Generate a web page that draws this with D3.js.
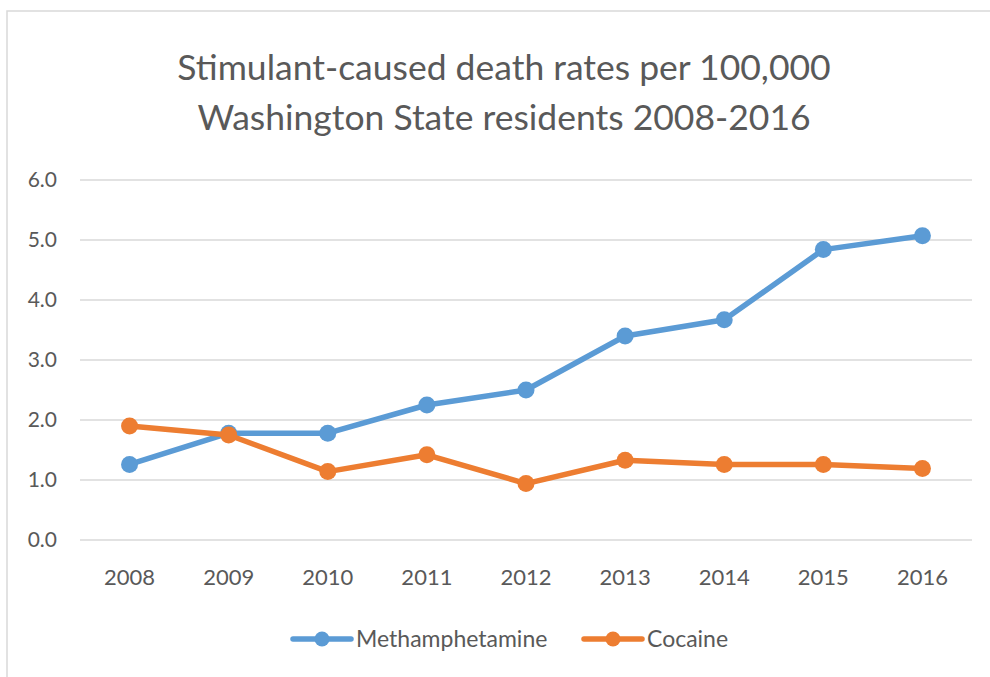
<!DOCTYPE html>
<html><head><meta charset="utf-8">
<script src="https://cdn.jsdelivr.net/npm/d3@7"></script>
<style>body{margin:0;background:#fff}svg{display:block}text{font-family:Lato,"Open Sans",sans-serif}</style>
</head><body>
<script>
const years = ["2008","2009","2010","2011","2012","2013","2014","2015","2016"];
const methamphetamine = [1.26,1.78,1.78,2.25,2.50,3.40,3.67,4.84,5.07];
const cocaine = [1.90,1.75,1.14,1.42,0.94,1.33,1.26,1.26,1.19];
const yTicks = [0,1,2,3,4,5,6];
const seriesNames = ["Methamphetamine","Cocaine"];
const colors = ["#5B9BD5","#ED7D31"];
const titleLines = ["Stimulant-caused death rates per 100,000","Washington State residents 2008-2016"];

const W=990,H=677;
const svg=d3.select("body").append("svg").attr("width",W).attr("height",H);
svg.append("rect").attr("x",7).attr("y",11).attr("width",W+10).attr("height",H+10)
  .attr("fill","#fff").attr("stroke","#d9d9d9").attr("stroke-width",1.5);

const x=d3.scaleBand().domain(years).range([80,972]);
const y=d3.scaleLinear().domain([0,6]).range([540,180]);

svg.append("g").selectAll("line").data(yTicks).join("line")
  .attr("x1",80).attr("x2",972).attr("y1",d=>y(d)).attr("y2",d=>y(d))
  .attr("stroke","#d9d9d9").attr("stroke-width",1.5);

const ya=svg.append("g").attr("transform","translate(80,0)")
  .call(d3.axisLeft(y).tickValues(yTicks).tickFormat(d3.format(".1f")).tickSize(0).tickPadding(23));
ya.select(".domain").remove();
ya.selectAll("text").attr("font-size",21).attr("fill","#595959").style("font-family","Lato");

const xa=svg.append("g").attr("transform","translate(0,540)")
  .call(d3.axisBottom(x).tickSize(0).tickPadding(29));
xa.select(".domain").remove();
xa.selectAll("text").attr("font-size",22).attr("fill","#595959").style("font-family","Lato");

svg.selectAll(".title").data(titleLines).join("text").attr("class","title")
  .attr("x",504).attr("y",(d,i)=>80+i*50).attr("text-anchor","middle")
  .attr("font-size",35.5).attr("fill","#595959").text(d=>d);

const cx=d=>x(d)+x.bandwidth()/2;
const line=d3.line().x((d,i)=>cx(years[i])).y(d=>y(d));
[methamphetamine,cocaine].forEach((s,k)=>{
  svg.append("path").datum(s).attr("d",line).attr("fill","none")
    .attr("stroke",colors[k]).attr("stroke-width",5.5).attr("stroke-linejoin","round");
  svg.append("g").selectAll("circle").data(s).join("circle")
    .attr("cx",(d,i)=>cx(years[i])).attr("cy",d=>y(d)).attr("r",8.5).attr("fill",colors[k]);
});

const legX=[293,584];
seriesNames.forEach((n,k)=>{
  const g=svg.append("g").attr("transform",`translate(${legX[k]},639)`);
  g.append("line").attr("x1",0).attr("x2",58).attr("stroke",colors[k]).attr("stroke-width",5.5).attr("stroke-linecap","round");
  g.append("circle").attr("cx",29).attr("r",7.5).attr("fill",colors[k]);
  g.append("text").attr("x",63).attr("y",8).attr("font-size",23).attr("fill","#595959").text(n);
});
</script>
</body></html>
